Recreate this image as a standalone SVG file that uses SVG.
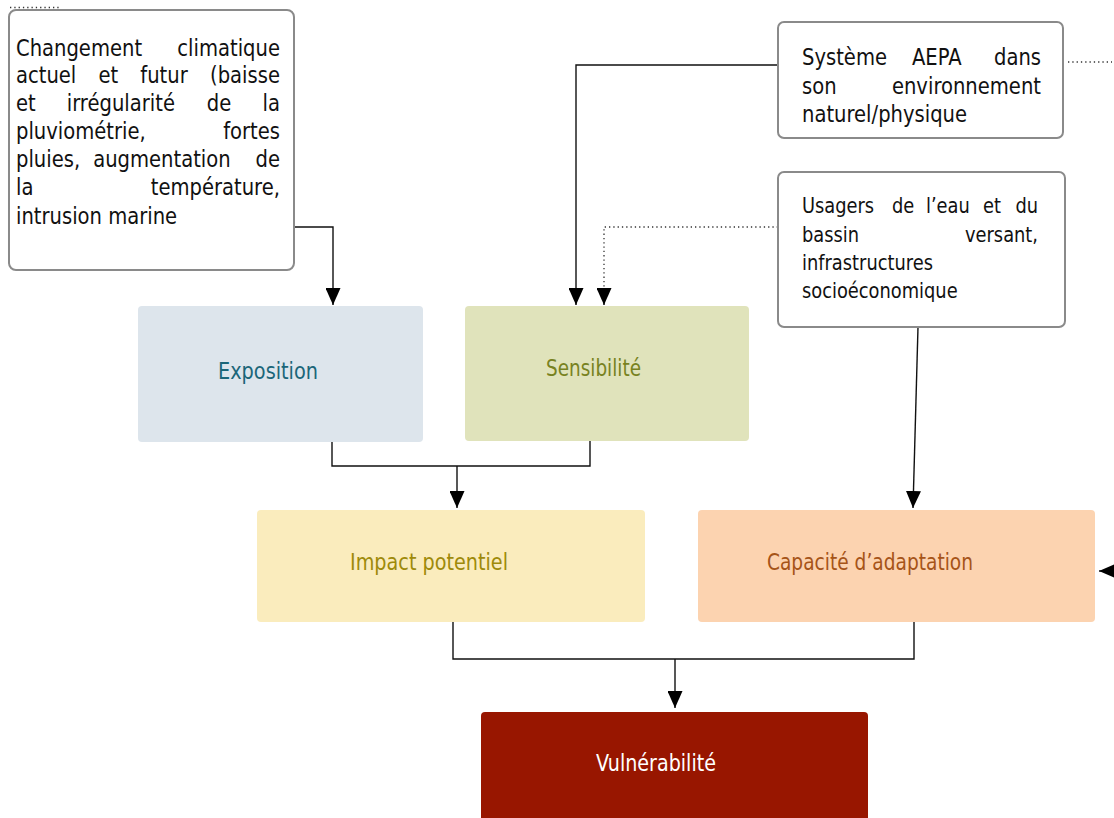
<svg xmlns="http://www.w3.org/2000/svg" width="1114" height="818" viewBox="0 0 1114 818">
<defs>
<marker id="arr" viewBox="0 0 17 15" refX="17" refY="7.5" markerWidth="17" markerHeight="15" markerUnits="userSpaceOnUse" orient="auto">
<path d="M0,0 L17,7.5 L0,15 z" fill="#000"/>
</marker>
<style>
text{font-family:"DejaVu Sans","Liberation Sans",sans-serif;}
.tb{fill:#fff;stroke:#8a8a8a;stroke-width:2;}
.body{font-size:22.5px;fill:#111;}
.body3{font-size:20.5px;fill:#111;}
.e{text-anchor:end;}
.lbl{font-size:23px;}
.c{fill:none;stroke:#111;stroke-width:1.4;}
.d{fill:none;stroke:#333;stroke-width:1.3;stroke-dasharray:1.3 3;}
</style>
</defs>

<g id="connectors">
<path class="d" d="M10,7.5 H60"/>
<path class="d" d="M1068,62 H1112"/>
<path class="c" d="M294,227 H333 V305" marker-end="url(#arr)"/>
<path class="c" d="M778,65 H576 V305" marker-end="url(#arr)"/>
<path class="d" d="M778,227 H604 V290"/>
<path class="c" d="M604,290 V305" marker-end="url(#arr)" stroke-width="0.1"/>
<path class="c" d="M332,442 V466 H590 V441"/>
<path class="c" d="M457,466 V508" marker-end="url(#arr)"/>
<path class="c" d="M918,327 L913,508" marker-end="url(#arr)"/>
<path class="c" d="M1120,571 H1099" marker-end="url(#arr)"/>
<path class="c" d="M453,622 V659 H914 V622"/>
<path class="c" d="M675,659 V708" marker-end="url(#arr)"/>
</g>

<g id="climat">
<rect class="tb" x="9" y="10" width="285" height="260" rx="7"/>
<g class="body" transform="translate(16,0) scale(0.87,1)">
<text x="0" y="56">Changement</text>
<text class="e" x="303.4" y="56">climatique</text>
<text x="0" y="83">actuel</text>
<text x="94.8" y="83">et</text>
<text x="142.9" y="83">futur</text>
<text class="e" x="303.4" y="83">(baisse</text>
<text x="0" y="111">et</text>
<text x="58.3" y="111">irrégularité</text>
<text x="219.4" y="111">de</text>
<text class="e" x="303.4" y="111">la</text>
<text x="0" y="139">pluviométrie,</text>
<text class="e" x="303.4" y="139">fortes</text>
<text x="0" y="167">pluies,</text>
<text x="88.7" y="167">augmentation</text>
<text class="e" x="303.4" y="167">de</text>
<text x="0" y="195">la</text>
<text class="e" x="303.4" y="195">température,</text>
<text x="0" y="224">intrusion marine</text>
</g>
</g>

<g id="aepa">
<rect class="tb" x="778" y="22" width="285" height="116" rx="6"/>
<g class="body" transform="translate(802,0) scale(0.87,1)">
<text x="0" y="65">Système</text>
<text x="126.4" y="65">AEPA</text>
<text class="e" x="274.7" y="65">dans</text>
<text x="0" y="94">son</text>
<text class="e" x="274.7" y="94">environnement</text>
<text x="0" y="122">naturel/physique</text>
</g>
</g>

<g id="usagers">
<rect class="tb" x="778" y="172" width="287" height="155" rx="6"/>
<g class="body3" transform="translate(802,0) scale(0.87,1)">
<text x="0" y="213">Usagers</text>
<text x="103.4" y="213">de</text>
<text x="142.5" y="213">l’eau</text>
<text x="208" y="213">et</text>
<text class="e" x="271.3" y="213">du</text>
<text x="0" y="242">bassin</text>
<text class="e" x="271.3" y="242">versant,</text>
<text x="0" y="270">infrastructures</text>
<text x="0" y="298">socioéconomique</text>
</g>
</g>

<g id="exposition">
<rect x="138" y="306" width="285" height="136" rx="4" fill="#dde5ec"/>
<text class="lbl" x="218" y="379" fill="#1b6679" textLength="100" lengthAdjust="spacingAndGlyphs">Exposition</text>
</g>

<g id="sensibilite">
<rect x="465" y="306" width="284" height="135" rx="4" fill="#e0e3bb"/>
<text class="lbl" x="546" y="376" fill="#78821f" textLength="95" lengthAdjust="spacingAndGlyphs">Sensibilité</text>
</g>

<g id="impact">
<rect x="257" y="510" width="388" height="112" rx="4" fill="#faecbd"/>
<text class="lbl" x="350" y="570" fill="#9e8a0a" textLength="158" lengthAdjust="spacingAndGlyphs">Impact potentiel</text>
</g>

<g id="capacite">
<rect x="698" y="510" width="397" height="112" rx="4" fill="#fcd3b0"/>
<text class="lbl" x="767" y="570" fill="#a65418" textLength="206" lengthAdjust="spacingAndGlyphs">Capacité d’adaptation</text>
</g>

<g id="vulnerabilite">
<rect x="481" y="712" width="387" height="120" rx="4" fill="#981600"/>
<text class="lbl" x="596" y="771" fill="#ffffff" textLength="120" lengthAdjust="spacingAndGlyphs">Vulnérabilité</text>
</g>
</svg>
